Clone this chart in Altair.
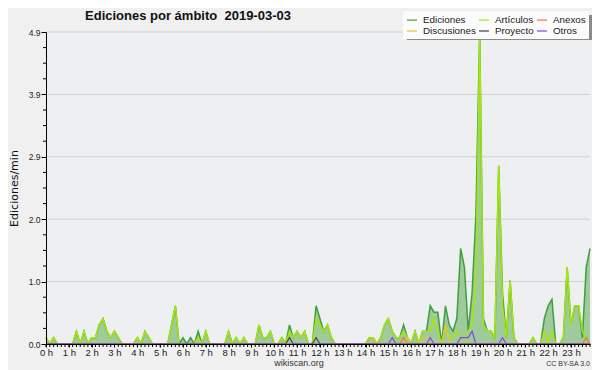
import altair as alt
import pandas as pd

# ---- data (values per 10-minute slot, edits/min) ----
ediciones = [
    0.1, 0, 0.1, 0, 0, 0,            # 0 h
    0, 0, 0.2, 0, 0.2, 0,            # 1 h
    0.1, 0.1, 0.3, 0.4, 0.2, 0.1,    # 2 h
    0.2, 0.1, 0, 0, 0, 0,            # 3 h
    0.1, 0, 0.2, 0.1, 0, 0,          # 4 h
    0, 0, 0, 0.3, 0.6, 0,            # 5 h
    0.1, 0, 0.1, 0, 0.2, 0,          # 6 h
    0.2, 0, 0, 0, 0, 0,              # 7 h
    0.2, 0, 0.1, 0, 0.1, 0,          # 8 h
    0, 0, 0.3, 0.1, 0.1, 0.2,        # 9 h
    0, 0, 0.1, 0, 0.3, 0.1,          # 10 h
    0.2, 0.1, 0.2, 0, 0, 0.6,        # 11 h
    0.4, 0.2, 0.3, 0.1, 0, 0,        # 12 h
    0, 0, 0, 0, 0, 0,                # 13 h
    0, 0.1, 0.1, 0, 0.1, 0.3,        # 14 h
    0.4, 0.2, 0.1, 0.1, 0.3, 0.1,    # 15 h
    0, 0.2, 0, 0.2, 0.2, 0.6,        # 16 h
    0.5, 0.5, 0, 0.6, 0.3, 0.2,      # 17 h
    0.4, 1.5, 1.2, 0.2, 0.8, 2.0,    # 18 h
    4.9, 0.4, 0.2, 0.2, 0.1, 2.8,    # 19 h
    0.8, 0.1, 1.0, 0.1, 0, 0,        # 20 h
    0, 0, 0.1, 0, 0, 0.4,            # 21 h
    0.6, 0.7, 0, 0, 0.1, 1.2,        # 22 h
    0.3, 0.6, 0.6, 0.1, 1.2, 1.5,    # 23 h
]
articulos = [
    0.1, 0, 0.1, 0, 0, 0,
    0, 0, 0.2, 0, 0.2, 0,
    0.1, 0.1, 0.3, 0.4, 0.2, 0.1,
    0.2, 0.1, 0, 0, 0, 0,
    0.1, 0, 0.2, 0.1, 0, 0,
    0, 0, 0, 0.3, 0.6, 0,
    0, 0, 0, 0, 0.1, 0,
    0.2, 0, 0, 0, 0, 0,
    0.2, 0, 0.1, 0, 0.1, 0,
    0, 0, 0.3, 0.1, 0.1, 0.2,
    0, 0, 0.1, 0, 0.2, 0.1,
    0.2, 0.1, 0.2, 0, 0, 0.4,
    0.3, 0.2, 0.3, 0.1, 0, 0,
    0, 0, 0, 0, 0, 0,
    0, 0.1, 0.1, 0, 0.1, 0.3,
    0.4, 0.2, 0.1, 0.1, 0.2, 0.1,
    0, 0.2, 0, 0.2, 0.2, 0.2,
    0.4, 0.2, 0, 0.3, 0.1, 0.1,
    0.2, 0.1, 0.1, 0.2, 0.3, 1.0,
    4.8, 0.3, 0.2, 0.2, 0.1, 2.8,
    0.6, 0.1, 1.0, 0.1, 0, 0,
    0, 0, 0.1, 0, 0, 0.2,
    0, 0.2, 0, 0, 0.1, 1.2,
    0.3, 0.6, 0.6, 0.2, 0.1, 0,
]
# sparse series: {slot index: value}
discusiones_pts = {86: 0.1, 95: 0.1, 99: 0.1, 100: 0.1, 105: 0.3}
anexos_pts = {94: 0.1, 142: 0.1}
proyecto_pts = {64: 0.1, 71: 0.1}
otros_pts = {91: 0.1, 101: 0.1, 109: 0.1, 110: 0.1, 111: 0.1, 112: 0.2, 120: 0.1}

# legend order (column-major fill of a 3-column, 2-row legend)
series_names = ["Ediciones", "Discusiones", "Artículos", "Proyecto", "Anexos", "Otros"]
series_colors = ["#3f9f3f", "#e8c23a", "#a6e60a", "#444444", "#ee7733", "#8a3ff0"]
draw_order = ["Ediciones", "Artículos", "Discusiones", "Anexos", "Proyecto", "Otros"]
line_widths = {"Ediciones": 1.5, "Artículos": 1.5}

y_major = [0, 0.98, 1.96, 2.94, 3.92, 4.9]
x_hours = list(range(24))
n = 144


def expand(pts):
    return [pts.get(i, 0) for i in range(n)]


values = {
    "Ediciones": ediciones,
    "Artículos": articulos,
    "Discusiones": expand(discusiones_pts),
    "Anexos": expand(anexos_pts),
    "Proyecto": expand(proyecto_pts),
    "Otros": expand(otros_pts),
}

rows = []
for s, vals in values.items():
    for i, v in enumerate(vals):
        rows.append({"series": s, "t": i / 6, "v": v})
df = pd.DataFrame(rows)

grid_df = pd.DataFrame({"v": y_major[1:]})
xminor_df = pd.DataFrame({"t": [i / 6 for i in range(n)]})
yminor_df = pd.DataFrame({"v": [k * 0.245 for k in range(21) if k % 4 != 0]})

W, H = 544, 312
FONT = "Liberation Sans"

x_enc = alt.X("t:Q", scale=alt.Scale(domain=[0, (n - 1) / 6], nice=False, zero=False),
              axis=alt.Axis(values=x_hours, labelExpr="datum.value + ' h'", title=None,
                            grid=False, tickSize=3, tickColor="#000", domainColor="#000",
                            labelFont=FONT, labelFontSize=9.5, labelColor="#222",
                            labelPadding=0, zindex=1, labelFlush=False))
y_enc = alt.Y("v:Q", scale=alt.Scale(domain=[0, 4.9], nice=False),
              axis=alt.Axis(values=y_major, format=".1f", title="Ediciones/min",
                            grid=False, tickSize=5, tickColor="#000", domainColor="#000",
                            labelFont=FONT, labelFontSize=8.5, labelColor="#222",
                            titleFont="DejaVu Sans", titleFontSize=11, titleFontWeight="normal",
                            titleColor="#111", labelPadding=1, titlePadding=9, zindex=1))

color_enc = alt.Color("series:N",
                      scale=alt.Scale(domain=series_names, range=series_colors),
                      legend=alt.Legend(title=None, orient="none", legendX=357, legendY=-21,
                                        columns=3, symbolType="stroke", symbolSize=100,
                                        symbolStrokeWidth=1.2, labelFont=FONT, labelFontSize=9.8,
                                        labelColor="#222", rowPadding=0, columnPadding=0,
                                        labelOffset=5, fillColor="#fbfbfb", padding=3,
                                        labelLimit=120))

base = alt.Chart(df)

grid = alt.Chart(grid_df).mark_rule(color="#cfcfd2", strokeWidth=1).encode(
    y=y_enc, x=alt.value(0), x2=alt.value(W))

area = base.transform_filter(alt.datum.series == "Ediciones").mark_area(
    color="#9fca9c", opacity=1).encode(x=x_enc, y=y_enc)

lines = []
for s in draw_order:
    lines.append(base.transform_filter(alt.datum.series == s).mark_line(
        strokeWidth=line_widths.get(s, 1.2)).encode(x=x_enc, y=y_enc, color=color_enc))

xminor = alt.Chart(xminor_df).mark_rule(color="#000").encode(
    x=x_enc, y=alt.value(H), y2=alt.value(H + 3))
yminor = alt.Chart(yminor_df).mark_rule(color="#000").encode(
    y=y_enc, x=alt.value(-3), x2=alt.value(0))

shadow = alt.Chart(pd.DataFrame({"k": [0]})).mark_rect(color="#8a8a8a").encode(
    x=alt.value(361), x2=alt.value(549), y=alt.value(-17), y2=alt.value(8))

title = alt.Chart(pd.DataFrame({"txt": ["Ediciones por ámbito\u00a0\u00a02019-03-03"]})).mark_text(
    font=FONT, fontSize=13, fontWeight="bold", color="#111", align="center", baseline="alphabetic"
).encode(x=alt.value(142), y=alt.value(-12.5), text="txt:N")

credit = alt.Chart(pd.DataFrame({"txt": ["wikiscan.org"]})).mark_text(
    font=FONT, fontSize=9, color="#333", align="center", baseline="alphabetic"
).encode(x=alt.value(253), y=alt.value(H + 22), text="txt:N")

lic = alt.Chart(pd.DataFrame({"txt": ["CC BY-SA 3.0"]})).mark_text(
    font=FONT, fontSize=7, color="#333", align="right", baseline="alphabetic"
).encode(x=alt.value(544), y=alt.value(H + 22), text="txt:N")

chart = alt.layer(grid, area, *lines, xminor, yminor, shadow, title, credit, lic).properties(
    width=W, height=H,
    autosize=alt.AutoSizeParams(type="none"),
    padding={"left": 38, "top": 24, "right": 2, "bottom": 26},
    background="#f0f0f0",
).configure_view(fill="#eeeff0", stroke=None)

chart.save("out.html", embed_options={"renderer": "svg", "actions": False})
